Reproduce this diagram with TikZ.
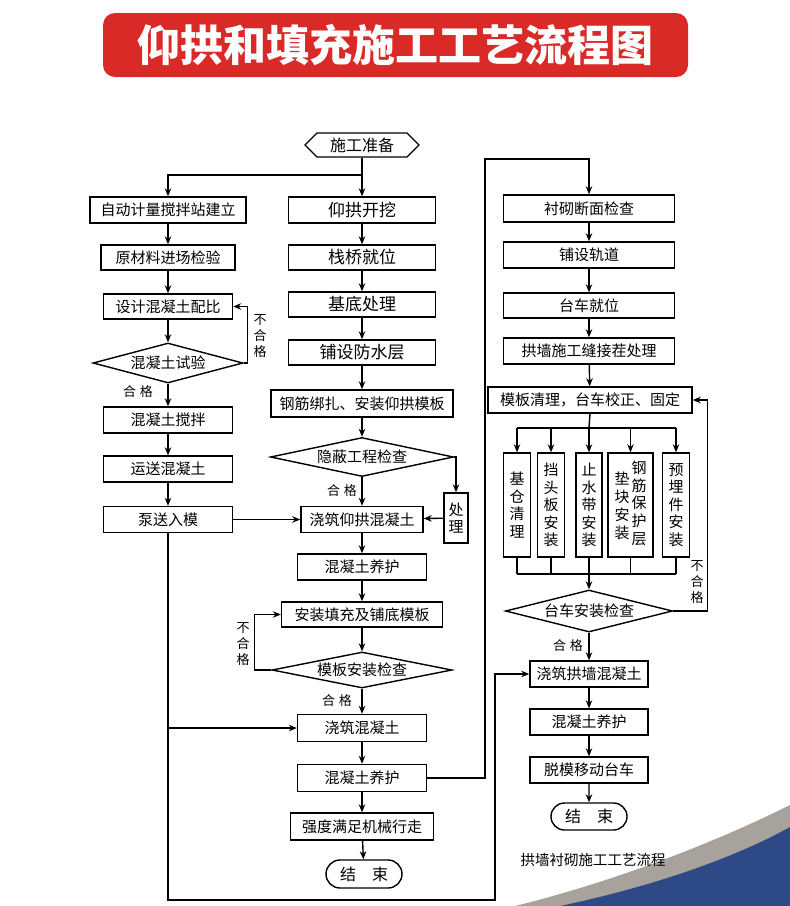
\documentclass[tikz,border=0pt]{standalone}
\usepackage{fontspec}
\setmainfont{Noto Sans CJK SC}
\usetikzlibrary{arrows.meta, shapes.geometric, shapes.symbols, shapes.misc, calc}
\definecolor{titlered}{RGB}{218,42,40}
\definecolor{swgrey}{RGB}{168,162,156}
\definecolor{swblue}{RGB}{45,74,135}

\begin{document}
\begin{tikzpicture}[x=1pt,y=-1pt,>={Stealth[length=8pt,width=6.5pt]},line width=1.4pt,
    box/.style={draw,fill=white,inner sep=0pt,minimum height=26pt,font=\fontsize{15}{17}\selectfont},
    bigbox/.style={box,minimum width=147pt,font=\fontsize{17}{19}\selectfont},
    vbox/.style={box,align=center,minimum height=104pt,minimum width=27pt,font=\fontsize{15}{17.5}\selectfont},
    check/.style={draw,fill=white,diamond,inner sep=0pt,font=\fontsize{15}{17}\selectfont},
    terminal/.style={draw,fill=white,rounded rectangle,inner sep=0pt,minimum width=76pt,minimum height=28pt,font=\fontsize{16}{18}\selectfont},
    note/.style={inner sep=0pt,font=\fontsize{13}{16}\selectfont},
    vnote/.style={note,align=center}]
  \useasboundingbox (0,0) rectangle (790,906);
  % corner swoosh
  \fill[swgrey] (515,906) .. controls (620,880) and (720,840) .. (790,805) -- (790,906) -- cycle;
  \fill[swblue] (560,906) .. controls (660,885) and (740,855) .. (790,827) -- (790,906) -- cycle;

  \node[fill=titlered,rounded corners=12pt,minimum width=585pt,minimum height=64pt,text=white,
    font=\fontsize{43}{48}\selectfont\bfseries] (title) at (395.5,45) {仰拱和填充施工工艺流程图};

  \node[draw,signal,signal to=west and east,inner sep=0pt,minimum width=114pt,minimum height=24pt,
    font=\fontsize{16}{18}\selectfont] (ready) at (362,145) {施工准备};
  \coordinate (split) at (362,175);

  % left column
  \node[box,minimum width=156pt] (plant) at (168,210) {自动计量搅拌站建立};
  \node[box,minimum width=134pt,minimum height=25pt] (raw) at (168,257.5) {原材料进场检验};
  \node[box,minimum width=129pt,minimum height=25pt] (ratio) at (168,306.5) {设计混凝土配比};
  \node[check,aspect=3.75,minimum width=150pt,minimum height=40pt] (trial) at (168,363) {混凝土试验};
  \node[box,minimum width=129pt] (stir) at (168,420) {混凝土搅拌};
  \node[box,minimum width=129pt] (haul) at (168,469) {运送混凝土};
  \node[box,minimum width=129pt] (pump) at (168,519.5) {泵送入模};
  \node[vnote] (trialno) at (260,336) {不\\合\\格};
  \node[note] (trialok) at (138,392) {合\hspace{4pt}格};

  % middle column
  \node[bigbox] (dig) at (362,210) {仰拱开挖};
  \node[bigbox,minimum height=25pt] (trestle) at (362,257.5) {栈桥就位};
  \node[bigbox,minimum height=25pt] (base) at (362,304.5) {基底处理};
  \node[bigbox,minimum height=25pt] (membrane) at (362,352.5) {铺设防水层};
  \node[box,minimum width=182pt,minimum height=27pt] (rebar) at (362,403.5) {钢筋绑扎、安装仰拱模板};
  \node[check,aspect=4.7,minimum width=183pt,minimum height=39pt] (hidden) at (362,457) {隐蔽工程检查};
  \node[box,align=center,minimum width=24pt,minimum height=50pt,font=\fontsize{15}{17.5}\selectfont] (fix) at (456,518) {处\\理};
  \node[box,minimum width=122pt] (invert) at (362,519.5) {浇筑仰拱混凝土};
  \node[box,minimum width=129pt] (cure1) at (362,567) {混凝土养护};
  \node[box,minimum width=161pt,minimum height=25pt] (form) at (362,614.5) {安装填充及铺底模板};
  \node[check,aspect=5,minimum width=180pt,minimum height=36pt] (formchk) at (362,670) {模板安装检查};
  \node[box,minimum width=129pt,minimum height=27pt] (fill) at (362,728) {浇筑混凝土};
  \node[box,minimum width=129pt,minimum height=27pt] (cure2) at (362,778) {混凝土养护};
  \node[box,minimum width=143pt,minimum height=27pt] (strength) at (362,826.5) {强度满足机械行走};
  \node[terminal] (endA) at (364,874) {结\quad 束};
  \node[note] (hiddenok) at (342,491) {合\hspace{4pt}格};
  \node[vnote] (formno) at (243,644) {不\\合\\格};
  \node[note] (formok) at (337,701) {合\hspace{4pt}格};

  % right column
  \node[box,minimum width=171pt,minimum height=27pt] (section) at (589,208.5) {衬砌断面检查};
  \node[box,minimum width=171pt] (track) at (589,255) {铺设轨道};
  \node[box,minimum width=171pt,minimum height=25pt] (trolley) at (589,305.5) {台车就位};
  \node[box,minimum width=171pt] (joint) at (589,351) {拱墙施工缝接茬处理};
  \node[box,minimum width=204pt] (clean) at (590,400) {模板清理，台车校正、固定};
  \node[vbox] (b1) at (517,505) {基\\仓\\清\\理};
  \node[vbox] (b2) at (551,505) {挡\\头\\板\\安\\装};
  \node[vbox,minimum width=26pt] (b3) at (589,505) {止\\水\\带\\安\\装};
  \node[vbox,minimum width=45pt] (b4) at (630.5,505)
    {\raisebox{6pt}{\begin{tabular}[b]{@{}c@{}}垫\\块\\安\\装\end{tabular}}\hspace{2pt}\begin{tabular}[b]{@{}c@{}}钢\\筋\\保\\护\\层\end{tabular}};
  \node[vbox] (b5) at (676,505) {预\\埋\\件\\安\\装};
  \coordinate (fan) at (589,428);
  \coordinate (gather) at (589,574);
  \node[check,aspect=4,minimum width=167pt,minimum height=42pt] (trolleychk) at (589,611) {台车安装检查};
  \node[box,minimum width=118pt] (wall) at (589,674) {浇筑拱墙混凝土};
  \node[box,minimum width=118pt] (cure3) at (589,722) {混凝土养护};
  \node[box,minimum width=118pt] (strip) at (589,770) {脱模移动台车};
  \node[terminal,minimum height=27pt] (endB) at (589,816.5) {结\quad 束};
  \node[vnote] (trolleyno) at (697,582) {不\\合\\格};
  \node[note] (trolleyok) at (568,646) {合\hspace{4pt}格};
  \node[inner sep=0pt,font=\fontsize{14.5}{16}\selectfont] (caption) at (593,860) {拱墙衬砌施工工艺流程};

  \coordinate (bl) at (168,900);
  \coordinate (br) at (495,900);
  \coordinate (tr) at (485,159);

  % connectors
  \draw (ready.south) -- (split);
  \draw[->] (split) -| (plant.north);
  \path[->] (split) edge (dig)
    (plant) edge (raw) (raw) edge (ratio) (ratio) edge (trial) (trial) edge (stir)
    (stir) edge (haul) (haul) edge (pump) (pump) edge (invert)
    (dig) edge (trestle) (trestle) edge (base) (base) edge (membrane) (membrane) edge (rebar)
    (rebar) edge (hidden) (hidden) edge (invert) (fix) edge (invert)
    (invert) edge (cure1) (cure1) edge (form) (form) edge (formchk) (formchk) edge (fill)
    (fill) edge (cure2) (cure2) edge (strength) (strength) edge (endA)
    (section) edge (track) (track) edge (trolley) (trolley) edge (joint) (joint) edge (clean)
    (gather) edge (trolleychk) (trolleychk) edge (wall)
    (wall) edge (cure3) (cure3) edge (strip) (strip) edge (endB);
  \draw[->] (trial.east) -- ++(4,0) |- (ratio.east);
  \draw[->] (hidden.east) -| (fix.north);
  \draw[->] (formchk.west) -- ++(-17,0) |- (form.west);
  \draw[->] (pump.south) -- (bl) -- (br) |- (wall.west);
  \draw[->] (pump.south |- fill) -- (fill.west);
  \draw[->] (cure2.east) -| (tr) -| (section.north);
  \draw (clean.south) -- (fan);
  \draw (b1.north |- fan) -- (b5.north |- fan);
  \draw (b1.south |- gather) -- (b5.south |- gather);
  \foreach \b in {b1,b2,b3,b4,b5}{
    \draw[->] (\b.north |- fan) -- (\b.north);
    \draw (\b.south) -- (\b.south |- gather);
  }
  \draw[->] (trolleychk.east) -- ++(34,0) |- (clean.east);
\end{tikzpicture}
\end{document}
